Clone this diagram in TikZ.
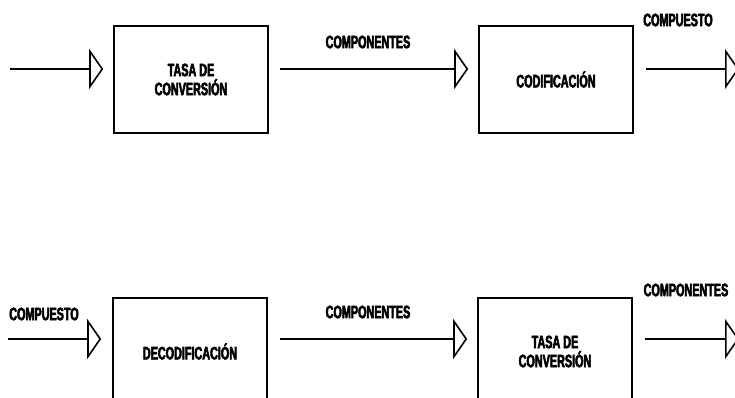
\documentclass[tikz,border=0pt]{standalone}
\usepackage{fontspec}
\setmainfont{Liberation Sans}
\newfontfamily\blockfont[FakeStretch=0.6,FakeBold=3]{Liberation Sans Bold}
\usetikzlibrary{arrows.meta,positioning,calc}

\begin{document}
\begin{tikzpicture}[x=1pt, y=-1pt, >={Triangle[open,length=14pt,width=40pt]}]
    \tikzstyle{block} = [rectangle, draw=black, line width=1.6pt, minimum width=154pt, minimum height=107pt, align=center, font=\blockfont\fontsize{18}{19}\selectfont]
    \tikzstyle{tag} = [inner sep=0pt, font=\blockfont\fontsize{18}{19}\selectfont]
    \tikzstyle{arrow} = [line width=1.6pt, ->]

    \useasboundingbox (0,0) rectangle (735,398);
    \clip (0,0) rectangle (735,398);

    % coding chain
    \node (rate) [block] at (191,79.5) {TASA DE\\CONVERSIÓN};
    \node (cod) [block] at (556,79.5) {CODIFICACIÓN};
    \coordinate (src) at (10,69);
    \coordinate (snk) at (739,69);

    \draw [arrow, shorten >=10pt] (src) -- (src -| rate.west);
    \draw [arrow, shorten <=11pt, shorten >=10pt] (rate.east |- src) -- (src -| cod.west);
    \draw [arrow, shorten <=12pt] (cod.east |- snk) -- (snk);

    \node (compA) [tag] at (368,42) {COMPONENTES};
    \node (mixA) [tag] at (678,20) {COMPUESTO};

    % decoding chain
    \node (dec) [block] at (190,351.5) {DECODIFICACIÓN};
    \node (rateB) [block] at (555,351.5) {TASA DE\\CONVERSIÓN};
    \coordinate (srcB) at (8,339);
    \coordinate (snkB) at (739,339);

    \draw [arrow, shorten >=11pt] (srcB) -- (srcB -| dec.west);
    \draw [arrow, shorten <=12pt, shorten >=10pt] (dec.east |- srcB) -- (srcB -| rateB.west);
    \draw [arrow, shorten <=12pt] (rateB.east |- snkB) -- (snkB);

    \node (mixB) [tag] at (44,314) {COMPUESTO};
    \node (compB) [tag] at (368,312) {COMPONENTES};
    \node (compC) [tag] at (686,290) {COMPONENTES};
\end{tikzpicture}
\end{document}
